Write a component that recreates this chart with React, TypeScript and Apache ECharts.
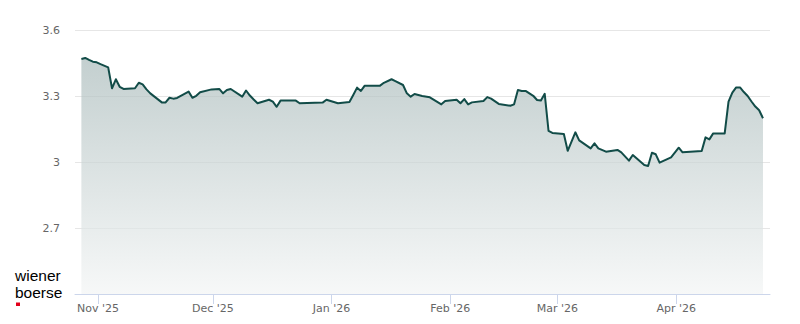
import React, { useEffect, useRef } from "react";
import * as echarts from "echarts";

const dates: string[] = [
  "2025-10-27", "2025-10-28", "2025-10-29", "2025-10-30", "2025-10-31", "2025-11-01", "2025-11-03",
  "2025-11-04", "2025-11-05", "2025-11-06", "2025-11-07", "2025-11-10", "2025-11-11", "2025-11-12",
  "2025-11-13", "2025-11-14", "2025-11-17", "2025-11-18", "2025-11-19", "2025-11-20", "2025-11-21",
  "2025-11-24", "2025-11-25", "2025-11-26", "2025-11-27", "2025-11-30", "2025-12-02", "2025-12-03",
  "2025-12-04", "2025-12-05", "2025-12-08", "2025-12-09", "2025-12-10", "2025-12-11", "2025-12-12",
  "2025-12-15", "2025-12-16", "2025-12-17", "2025-12-18", "2025-12-22", "2025-12-23", "2025-12-29",
  "2025-12-30", "2026-01-02", "2026-01-05", "2026-01-06", "2026-01-07", "2026-01-08", "2026-01-09",
  "2026-01-13", "2026-01-14", "2026-01-16", "2026-01-17", "2026-01-19", "2026-01-20", "2026-01-21",
  "2026-01-22", "2026-01-24", "2026-01-26", "2026-01-29", "2026-01-30", "2026-02-02", "2026-02-03",
  "2026-02-04", "2026-02-05", "2026-02-06", "2026-02-09", "2026-02-10", "2026-02-11", "2026-02-13",
  "2026-02-16", "2026-02-17", "2026-02-18", "2026-02-19", "2026-02-20", "2026-02-22", "2026-02-23",
  "2026-02-24", "2026-02-25", "2026-02-26", "2026-02-27", "2026-03-02", "2026-03-03", "2026-03-05",
  "2026-03-06", "2026-03-09", "2026-03-10", "2026-03-11", "2026-03-13", "2026-03-16", "2026-03-17",
  "2026-03-19", "2026-03-20", "2026-03-23", "2026-03-24", "2026-03-25", "2026-03-26", "2026-03-27",
  "2026-03-30", "2026-04-01", "2026-04-02", "2026-04-07", "2026-04-08", "2026-04-09", "2026-04-10",
  "2026-04-13", "2026-04-14", "2026-04-15", "2026-04-16", "2026-04-17", "2026-04-18", "2026-04-19",
  "2026-04-20", "2026-04-21", "2026-04-22", "2026-04-23",
];

const prices: number[] = [
  3.468, 3.473, 3.464, 3.456, 3.453, 3.445, 3.43,
  3.335, 3.376, 3.342, 3.332, 3.335, 3.36, 3.353,
  3.33, 3.312, 3.271, 3.271, 3.292, 3.288, 3.291,
  3.32, 3.292, 3.301, 3.317, 3.33, 3.332, 3.312,
  3.327, 3.332, 3.297, 3.325, 3.302, 3.284, 3.267,
  3.283, 3.274, 3.251, 3.279, 3.279, 3.267, 3.27,
  3.283, 3.267, 3.273, 3.305, 3.338, 3.323, 3.347,
  3.347, 3.36, 3.376, 3.368, 3.35, 3.312, 3.297,
  3.309, 3.3, 3.294, 3.262, 3.277, 3.283, 3.267,
  3.286, 3.262, 3.271, 3.277, 3.295, 3.288, 3.264,
  3.256, 3.262, 3.327, 3.323, 3.323, 3.301, 3.282,
  3.28, 3.31, 3.141, 3.132, 3.127, 3.051, 3.135,
  3.098, 3.062, 3.085, 3.062, 3.047, 3.055, 3.044,
  3.006, 3.032, 2.986, 2.982, 3.042, 3.035, 2.997,
  3.021, 3.065, 3.044, 3.05, 3.112, 3.103, 3.13,
  3.13, 3.274, 3.315, 3.339, 3.339, 3.318, 3.3,
  3.275, 3.252, 3.235, 3.199,
];

const monthNames: string[] = ["Jan", "Feb", "Mar", "Apr", "May", "Jun", "Jul", "Aug", "Sep", "Oct", "Nov", "Dec"];
const yMin = 2.4;
const yMax = 3.6;
const yStep = 0.3;
const logoLines: string[] = ["wiener", "boerse"];

function toTime(s: string): number {
  const [y, m, d] = s.split("-").map(Number);
  return new Date(y, m - 1, d, 16).getTime();
}

export default function App() {
  const ref = useRef<HTMLDivElement>(null);

  useEffect(() => {
    if (!ref.current) return;
    const chart = echarts.init(ref.current, undefined, { renderer: "svg" });
    const seriesData = dates.map((d, i) => [toTime(d), prices[i]]);
    const labelFont = "'DejaVu Sans', sans-serif";

    chart.setOption({
      animation: false,
      backgroundColor: "#ffffff",
      grid: { left: 75, right: 30, top: 30, bottom: 30, containLabel: false },
      xAxis: {
        type: "time",
        min: new Date(2025, 9, 26).getTime(),
        max: new Date(2026, 3, 25, 12).getTime(),
        minInterval: 28 * 86400000,
        maxInterval: 31 * 86400000,
        axisLine: { show: true, lineStyle: { color: "#ccd6eb", width: 1 } },
        axisTick: { show: true, length: 10, lineStyle: { color: "#ccd6eb", width: 1 } },
        splitLine: { show: false },
        axisLabel: {
          color: "#666666",
          fontSize: 11,
          fontFamily: labelFont,
          margin: 9,
          showMinLabel: false,
          showMaxLabel: false,
          formatter: (v: number) => {
            const d = new Date(v);
            return monthNames[d.getMonth()] + " '" + String(d.getFullYear()).slice(2);
          },
        },
      },
      yAxis: {
        type: "value",
        min: yMin,
        max: yMax,
        interval: yStep,
        axisLine: { show: false },
        axisTick: { show: false },
        splitLine: { show: true, lineStyle: { color: "#e6e6e6", width: 1 } },
        axisLabel: {
          color: "#666666",
          fontSize: 11,
          fontFamily: labelFont,
          margin: 15,
          showMinLabel: false,
          formatter: (v: number) => String(parseFloat(v.toFixed(1))),
        },
      },
      series: [
        {
          type: "line",
          data: seriesData,
          symbol: "none",
          lineStyle: { color: "#124c48", width: 2, join: "round" },
          areaStyle: {
            origin: "start",
            color: new echarts.graphic.LinearGradient(0, 0, 0, 1, [
              { offset: 0, color: "#aabbbb" },
              { offset: 1, color: "#f3f5f5" },
            ]),
          },
        },
      ],
      graphic: [
        {
          type: "text",
          left: 15,
          top: 266.6,
          style: {
            text: logoLines.join("\n"),
            fill: "#000000",
            fontSize: 15.5,
            fontFamily: "'Liberation Sans', Arial, sans-serif",
            lineHeight: 17.4,
          },
        },
        {
          type: "rect",
          left: 16,
          top: 302.5,
          shape: { width: 4, height: 3.5 },
          style: { fill: "#e2001a" },
        },
      ],
    });

    return () => {
      chart.dispose();
    };
  }, []);

  return <div ref={ref} style={{ width: 800, height: 324, position: "absolute", left: 0, top: 0 }} />;
}
